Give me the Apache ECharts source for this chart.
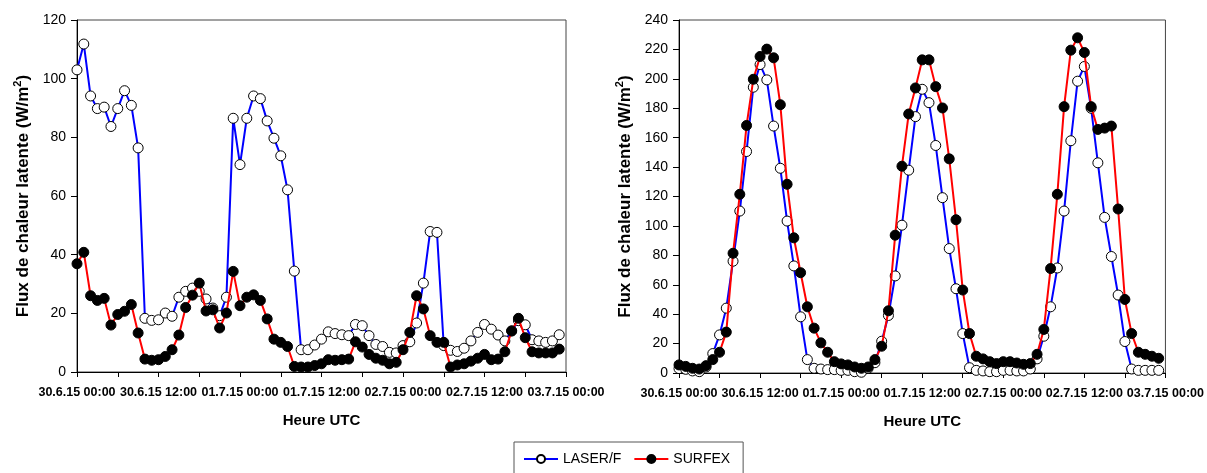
<!DOCTYPE html>
<html><head><meta charset="utf-8">
<script src="https://cdn.jsdelivr.net/npm/echarts@6/dist/echarts.min.js"></script>
<style>html,body{margin:0;padding:0;background:#fff}#c{width:1207px;height:473px}</style>
</head><body><div id="c"></div>
<script>
// x tick labels every 12 h (x value = hours since 30.6.15 00:00)
const xTickLabels = ['30.6.15 00:00','30.6.15 12:00','01.7.15 00:00','01.7.15 12:00','02.7.15 00:00','02.7.15 12:00','03.7.15 00:00'];
const seriesNames = ['LASER/F','SURFEX'];
const yTitle = 'Flux de chaleur latente (W/m{sup|2})';
const xTitle = 'Heure UTC';

// Left panel, hourly values h0..h71
const leftLaser = [103, 111.8, 94.1, 89.8, 90.3, 83.7, 89.8, 95.9, 90.9, 76.4,
  18.3, 17.6, 17.8, 20.1, 19.0, 25.5, 27.5, 28.6, 27.5, 24.9,
  21.8, 19.2, 25.5, 86.5, 70.7, 86.5, 94.1, 93.2, 85.6, 79.7,
  73.7, 62.1, 34.4, 7.6, 7.6, 9.2, 11.2, 13.7, 13.1, 12.7,
  12.4, 16.2, 15.8, 12.4, 9.4, 8.7, 6.7, 6.5, 9.0, 10.3,
  16.7, 30.3, 47.9, 47.6, 9.0, 7.4, 7.0, 8.1, 10.6, 13.5,
  16.2, 14.6, 12.6, 10.6, 14.0, 17.5, 16.1, 11.0, 10.6, 10.1,
  10.6, 12.7];
const leftSurfex = [36.9, 40.8, 26.0, 24.4, 25.1, 16.0, 19.6, 20.7, 23.0, 13.3,
  4.4, 4.0, 4.2, 5.3, 7.6, 12.6, 22.0, 26.2, 30.3, 20.8,
  21.2, 15.0, 20.1, 34.3, 22.6, 25.5, 26.3, 24.4, 18.1, 11.2,
  10.1, 8.7, 1.9, 1.7, 1.7, 2.2, 2.8, 4.2, 4.0, 4.2,
  4.4, 10.3, 8.5, 6.0, 4.7, 4.0, 2.8, 3.3, 7.6, 13.5,
  26.0, 21.5, 12.4, 10.1, 10.1, 1.7, 2.4, 2.8, 3.7, 4.7,
  6.0, 4.2, 4.4, 6.9, 14.0, 18.3, 11.7, 6.9, 6.5, 6.5,
  6.5, 7.8];

// Right panel, hourly values h0..h71
const rightLaser = [3.0, 2.5, 1.4, 0.9, 4.1, 13.2, 25.9, 44.1, 76.0, 110.1,
  150.6, 194.3, 209.7, 199.3, 167.9, 139.2, 103.3, 72.8, 38.2, 9.1,
  3.2, 2.7, 2.3, 2.3, 1.8, 1.8, 0.9, 0.5, 3.2, 7.0,
  21.6, 39.1, 66.0, 100.5, 137.9, 174.3, 192.9, 183.8, 154.7, 119.2,
  84.6, 57.3, 26.8, 3.6, 1.8, 1.4, 0.9, 0.9, 1.8, 1.8,
  1.4, 1.4, 2.7, 9.6, 25.0, 45.0, 71.4, 110.1, 157.9, 198.4,
  208.4, 180.0, 142.9, 105.8, 79.2, 53.0, 21.4, 2.7, 1.8, 1.8,
  1.8, 1.8];
const rightSurfex = [5.5, 4.5, 3.2, 2.7, 5.0, 9.1, 14.1, 27.8, 81.4, 121.5,
  168.3, 199.7, 215.2, 220.2, 214.3, 182.4, 128.3, 91.9, 68.2, 45.0,
  30.5, 20.5, 14.1, 7.7, 6.2, 5.5, 4.1, 3.2, 4.1, 9.1,
  18.2, 42.3, 93.7, 140.6, 176.1, 193.8, 212.9, 212.9, 194.7, 180.2,
  145.6, 104.2, 56.4, 26.8, 11.4, 9.6, 7.7, 6.4, 7.7, 7.7,
  6.8, 5.9, 6.4, 12.7, 29.6, 71.0, 121.5, 181.1, 219.5, 227.9,
  217.9, 181.1, 165.6, 166.5, 167.9, 111.5, 50.0, 26.8, 14.1, 12.7,
  11.4, 10.0];

const FONT = 'Liberation Sans, Arial, sans-serif';
const toPairs = arr => arr.map((v, i) => [i, v]);

function makeX(gi) {
  return {
    type: 'value', gridIndex: gi, min: 0, max: 72, interval: 12,
    axisLine: { show: true, onZero: false, lineStyle: { color: '#000', width: 1 } },
    axisTick: { show: true, inside: false, length: 5, lineStyle: { color: '#000' } },
    minorTick: { show: true, splitNumber: 2, length: 5, lineStyle: { color: '#000' } },
    splitLine: { show: false },
    axisLabel: { formatter: v => xTickLabels[Math.round(v / 12)], color: '#000', fontFamily: FONT,
      fontWeight: 'bold', fontSize: 12.5, margin: 14, showMaxLabel: true, showMinLabel: true },
    name: xTitle, nameLocation: 'middle', nameGap: 41,
    nameTextStyle: { color: '#000', fontFamily: FONT, fontWeight: 'bold', fontSize: 15 }
  };
}
function makeY(gi, max) {
  return {
    type: 'value', gridIndex: gi, min: 0, max: max, interval: 20,
    axisLine: { show: true, lineStyle: { color: '#000', width: 1 } },
    axisTick: { show: true, inside: false, length: 6, lineStyle: { color: '#000' } },
    splitLine: { show: false },
    axisLabel: { color: '#000', fontFamily: FONT, fontSize: 14, margin: 11 },
    name: yTitle, nameLocation: 'middle', nameGap: 43, nameRotate: 90,
    nameTextStyle: { color: '#000', fontFamily: FONT, fontWeight: 'bold', fontSize: 17,
      rich: { sup: { fontFamily: FONT, fontWeight: 'bold', fontSize: 11, color: '#000',
        verticalAlign: 'top', lineHeight: 22, padding: [0, 0, 8, 0] } } }
  };
}
function makeSeries(name, data, gi, isLaser) {
  return {
    name: name, type: 'line', xAxisIndex: gi, yAxisIndex: gi, data: toPairs(data),
    symbol: 'circle', symbolSize: 10, showAllSymbol: true,
    lineStyle: { color: isLaser ? '#0000ff' : '#ff0000', width: 2 },
    itemStyle: { color: isLaser ? '#ffffff' : '#000000', borderColor: '#000', borderWidth: 1 },
    emphasis: { disabled: true }, z: isLaser ? 2 : 3
  };
}

const chart = echarts.init(document.getElementById('c'), null, { renderer: 'canvas' });
chart.setOption({
  animation: false,
  backgroundColor: '#fff',
  grid: [
    { left: 77, top: 20, width: 489, height: 352, show: true, borderColor: '#444', borderWidth: 1 },
    { left: 679, top: 20, width: 489, height: 353, show: true, borderColor: '#444', borderWidth: 1 }
  ],
  xAxis: [makeX(0), makeX(1)],
  yAxis: [makeY(0, 120), makeY(1, 240)],
  legend: {
    data: seriesNames, left: 514, top: 442, orient: 'horizontal',
    borderColor: '#555', borderWidth: 1, padding: [10, 13, 14, 9], itemGap: 12,
    itemWidth: 34, itemHeight: 10,
    textStyle: { color: '#000', fontFamily: FONT, fontSize: 14 }
  },
  series: [
    makeSeries(seriesNames[0], leftLaser, 0, true),
    makeSeries(seriesNames[1], leftSurfex, 0, false),
    makeSeries(seriesNames[0], rightLaser, 1, true),
    makeSeries(seriesNames[1], rightSurfex, 1, false)
  ]
});
</script>
</body></html>
